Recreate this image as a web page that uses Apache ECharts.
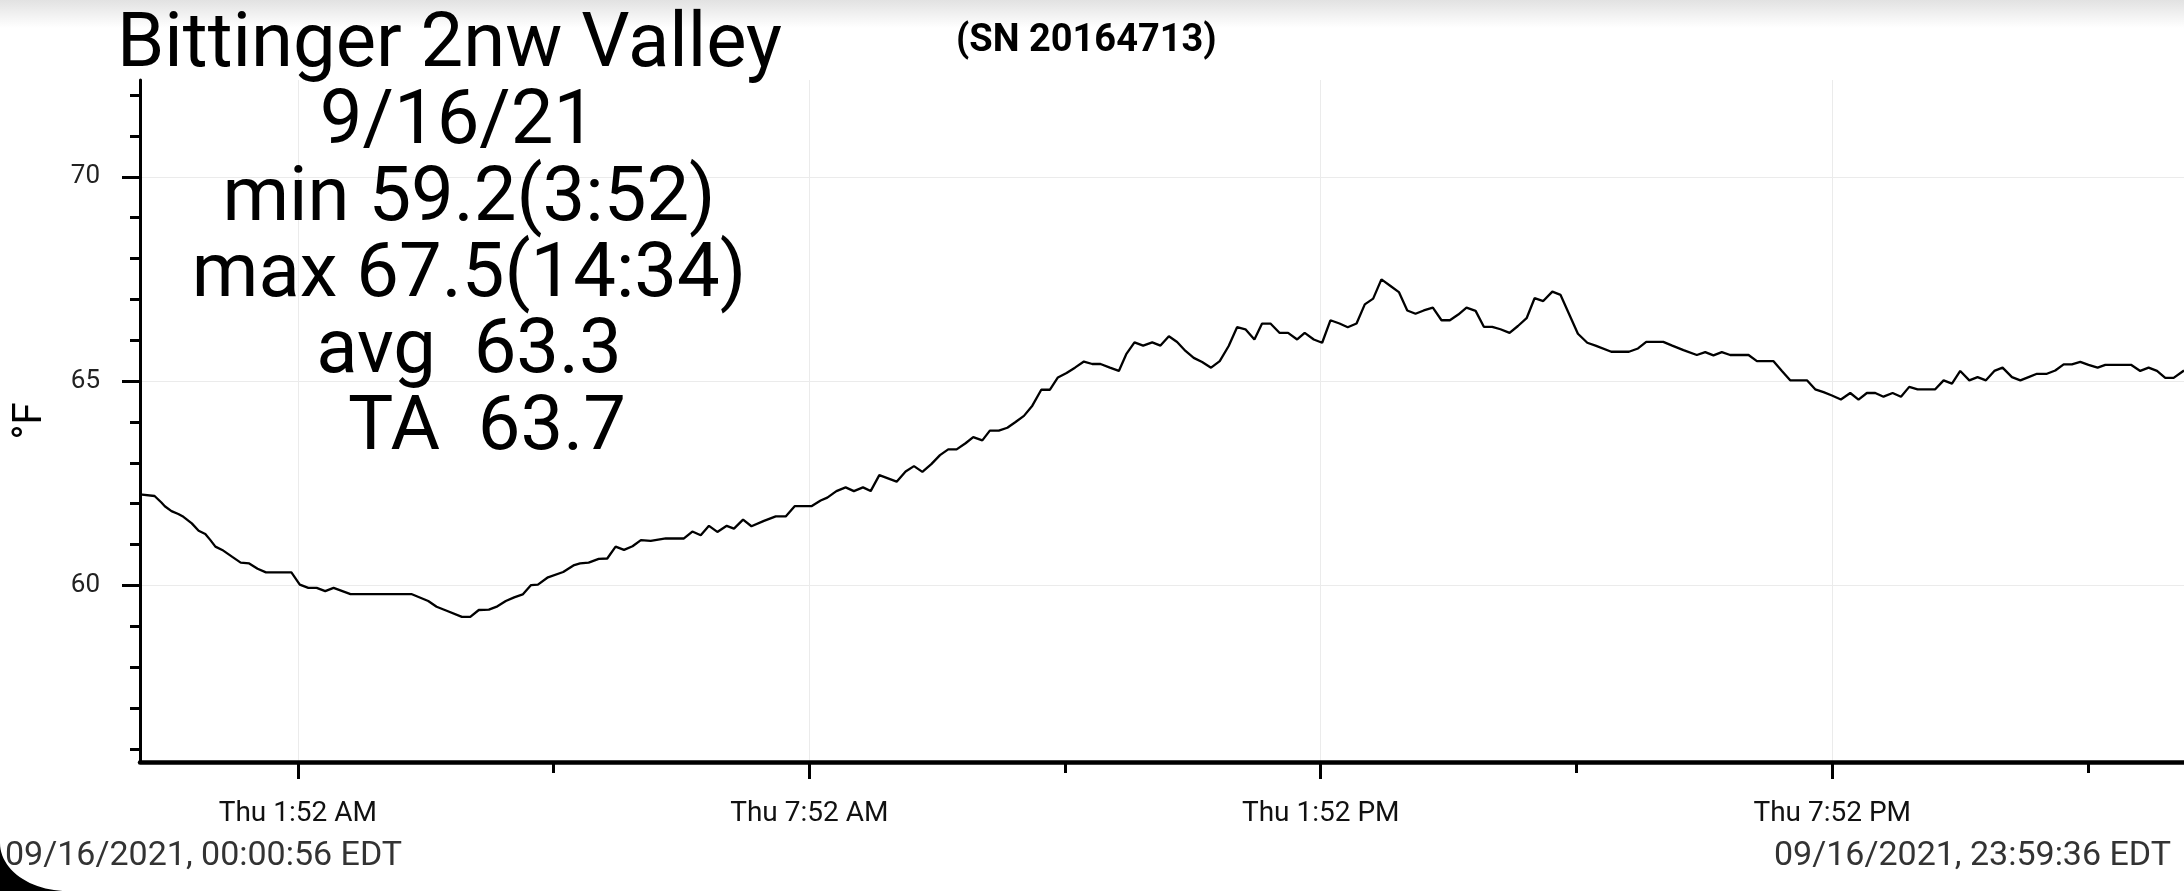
<!DOCTYPE html>
<html>
<head>
<meta charset="utf-8">
<script src="https://cdn.jsdelivr.net/npm/echarts@6/dist/echarts.min.js"></script>
<style>
html,body{margin:0;padding:0;background:#fff;}
#chart{width:2184px;height:891px;}
</style>
</head>
<body>
<div id="chart"></div>
<script>
// minutes since midnight (09/16/2021, EDT)
const times = [
0.9,11.2,16.0,18.4,23.1,27.9,31.5,37.4,42.2,46.9,50.5,54.0,58.8,65.9,71.8,77.8,83.7,89.6,107.5,113.4,
119.4,125.3,131.3,137.2,149.1,191.9,203.8,209.7,216.8,227.5,233.4,239.4,246.5,252.5,258.4,264.3,270.3,276.2,281.0,288.1,
298.8,306.0,310.7,316.7,323.8,329.8,335.7,341.6,347.6,353.5,360.4,371.0,383.8,389.7,395.6,401.4,407.3,413.9,419.0,425.4,
431.3,440.1,448.4,455.4,461.7,473.5,480.0,484.7,491.1,497.6,503.4,509.8,515.2,521.3,533.5,539.8,545.7,551.6,557.9,564.0,
569.8,575.7,582.0,587.4,593.8,599.1,605.4,611.4,617.2,623.1,629.0,635.3,641.4,647.0,653.1,659.0,665.3,671.2,677.0,683.6,
689.9,695.1,700.9,707.0,713.4,719.2,725.1,730.9,736.8,742.6,748.5,754.8,760.9,767.2,773.1,779.0,785.3,790.7,796.6,803.1,
809.0,815.4,820.7,827.1,833.0,838.8,845.2,851.0,857.2,863.0,868.9,874.7,881.1,887.0,892.9,898.7,904.5,910.9,917.0,922.9,
928.8,934.6,941.0,946.8,952.7,958.5,964.9,970.8,976.9,982.5,988.6,995.0,1000.8,1006.7,1013.0,1019.6,1025.4,1036.5,1048.9,1055.3,
1061.1,1073.1,1079.4,1087.3,1096.7,1102.6,1108.4,1114.3,1120.2,1133.1,1139.0,1150.7,1156.6,1162.4,1174.2,1180.0,1185.9,1191.8,1198.1,1204.7,
1210.5,1216.4,1222.3,1228.1,1234.5,1240.4,1246.2,1252.1,1264.5,1270.4,1276.3,1282.1,1288.5,1294.3,1300.2,1306.1,1311.9,1318.5,1324.4,1330.2,
1336.1,1343.1,1349.0,1354.9,1360.7,1366.6,1372.4,1378.8,1384.2,1402.3,1408.8,1414.7,1420.6,1426.4,1432.3,1439.6
];
// temperature, °F
const temps = [
62.23,62.19,62.03,61.94,61.82,61.75,61.68,61.52,61.34,61.26,61.11,60.95,60.87,60.70,60.56,60.54,60.41,60.32,60.32,60.02,
59.94,59.94,59.86,59.94,59.79,59.79,59.62,59.48,59.38,59.23,59.23,59.40,59.41,59.49,59.62,59.71,59.78,60.01,60.02,60.20,
60.33,60.49,60.54,60.56,60.65,60.66,60.95,60.87,60.96,61.11,61.09,61.15,61.15,61.32,61.23,61.46,61.31,61.46,61.39,61.61,
61.45,61.58,61.69,61.69,61.94,61.94,62.08,62.15,62.31,62.40,62.31,62.40,62.31,62.70,62.54,62.79,62.92,62.78,62.97,63.19,
63.33,63.33,63.48,63.63,63.55,63.79,63.79,63.86,64.00,64.15,64.40,64.79,64.79,65.09,65.20,65.33,65.48,65.42,65.42,65.33,
65.25,65.66,65.95,65.87,65.95,65.87,66.10,65.96,65.74,65.57,65.47,65.33,65.49,65.86,66.32,66.27,66.02,66.41,66.41,66.18,
66.18,66.02,66.18,66.02,65.94,66.49,66.41,66.32,66.41,66.88,67.02,67.49,67.33,67.18,66.73,66.65,66.73,66.80,66.49,66.49,
66.63,66.80,66.72,66.33,66.33,66.27,66.18,66.35,66.54,67.03,66.96,67.19,67.11,66.65,66.16,65.94,65.87,65.72,65.72,65.80,
65.96,65.96,65.87,65.76,65.64,65.71,65.63,65.71,65.64,65.64,65.49,65.49,65.25,65.02,65.02,64.80,64.73,64.65,64.55,64.71,
64.55,64.71,64.71,64.62,64.71,64.62,64.86,64.80,64.80,65.02,64.94,65.25,65.02,65.10,65.02,65.25,65.33,65.10,65.02,65.10,
65.18,65.18,65.26,65.41,65.41,65.47,65.40,65.33,65.40,65.40,65.25,65.33,65.25,65.08,65.08,65.26
];
const xTickValues = [112, 472, 832, 1192];
const xTickLabels = ['Thu 1:52 AM', 'Thu 7:52 AM', 'Thu 1:52 PM', 'Thu 7:52 PM'];
const xMinorTickValues = [292, 652, 1012, 1372];
const yTickValues = [60, 65, 70];
const yTickLabels = ['60', '65', '70'];
const yMinorTickValues = [56,57,58,59,61,62,63,64,66,67,68,69,71,72];
const xStart = 0.933, xEnd = 1439.6;
const yMin = 55.68, yMax = 72.37;
const titleText = 'Bittinger 2nw Valley';
const serialText = '(SN 20164713)';
const statLines = ['9/16/21', 'min 59.2(3:52)', 'max 67.5(14:34)', 'avg  63.3', 'TA  63.7'];
const startStamp = '09/16/2021, 00:00:56 EDT';
const endStamp = '09/16/2021, 23:59:36 EDT';

const FONT = 'Roboto, "Noto Sans", sans-serif';
const chart = echarts.init(document.getElementById('chart'), null, {renderer: 'canvas'});

const statX = [458, 469, 469, 469, 487];
const statY = [145, 222, 298, 374, 451];
const BIG = 76;
const midOff = Math.round(BIG * 0.27);

// rounded screen-corner mask (bottom-left)
const cornerPts = [[0, 891]];
for (let k = 0; k <= 24; k++) {
  const a = Math.PI - (Math.PI / 2) * (k / 24);
  cornerPts.push([67 + 67 * Math.cos(a), 843 + 48 * Math.sin(a)]);
}

const graphics = [
  {type:'rect', z:0, shape:{x:0,y:0,width:2184,height:28},
   style:{fill:new echarts.graphic.LinearGradient(0,0,0,1,[{offset:0,color:'#e2e2e2'},{offset:1,color:'#ffffff'}])}},
  {type:'text', z:50, x:117, y:68-midOff, style:{text:titleText, font:BIG+'px '+FONT, fill:'#000', align:'left', verticalAlign:'middle'}},
  {type:'text', z:50, x:956, y:41, style:{text:serialText, font:'bold 38px '+FONT, fill:'#000', align:'left', verticalAlign:'middle'}},
  {type:'text', z:50, x:5, y:865-9, style:{text:startStamp, font:'34px '+FONT, fill:'#333', align:'left', verticalAlign:'middle'}},
  {type:'text', z:50, x:2171, y:865-9, style:{text:endStamp, font:'34px '+FONT, fill:'#333', align:'right', verticalAlign:'middle'}},
  {type:'polygon', z:100, shape:{points:cornerPts}, style:{fill:'#000'}}
];
statLines.forEach((s, i) => {
  graphics.push({type:'text', z:50, x:statX[i], y:statY[i]-midOff,
    style:{text:s, font:BIG+'px '+FONT, fill:'#000', align:'center', verticalAlign:'middle'}});
});

const option = {
  backgroundColor: '#fff',
  animation: false,
  textStyle: {fontFamily: FONT},
  grid: {left: 140, right: 0, top: 80, bottom: 129, containLabel: false},
  xAxis: [
    {
      type: 'value', min: xStart, max: xEnd, position: 'bottom',
      axisLine: {show: true, onZero: false, lineStyle: {color: '#000', width: 4.5}},
      axisTick: {show: true, customValues: xTickValues, length: 17, lineStyle: {color: '#000', width: 3}},
      axisLabel: {show: true, customValues: xTickValues, margin: 38, fontSize: 28, color: '#111', fontFamily: FONT,
        formatter: v => { const i = xTickValues.indexOf(Math.round(v)); return i >= 0 ? xTickLabels[i] : ''; }},
      splitLine: {show: true, lineStyle: {color: '#ebebeb', width: 1}}
    },
    {
      type: 'value', min: xStart, max: xEnd, position: 'bottom', offset: 0,
      axisLine: {show: false, onZero: false},
      axisTick: {show: true, customValues: xMinorTickValues, length: 11, lineStyle: {color: '#000', width: 3}},
      axisLabel: {show: false},
      splitLine: {show: false}
    }
  ],
  yAxis: [
    {
      type: 'value', min: yMin, max: yMax, position: 'left',
      name: '°F', nameLocation: 'middle', nameGap: 89,
      nameTextStyle: {fontSize: 40, color: '#000', fontFamily: FONT},
      axisLine: {show: true, onZero: false, lineStyle: {color: '#000', width: 3}},
      axisTick: {show: true, customValues: yTickValues, length: 18, lineStyle: {color: '#000', width: 3}},
      axisLabel: {show: true, customValues: yTickValues, margin: 40, fontSize: 26, color: '#222', fontFamily: FONT,
        formatter: v => { const i = yTickValues.indexOf(Math.round(v)); return i >= 0 ? yTickLabels[i] : ''; }},
      splitLine: {show: true, lineStyle: {color: '#ebebeb', width: 1}}
    },
    {
      type: 'value', min: yMin, max: yMax, position: 'left', offset: 0,
      axisLine: {show: false, onZero: false},
      axisTick: {show: true, customValues: yMinorTickValues, length: 10, lineStyle: {color: '#000', width: 3}},
      axisLabel: {show: false},
      splitLine: {show: false}
    }
  ],
  series: [{
    type: 'line', xAxisIndex: 0, yAxisIndex: 0,
    data: times.map((t, i) => [t, temps[i]]),
    showSymbol: false, symbol: 'none', smooth: false,
    lineStyle: {color: '#000', width: 2.3},
    z: 10
  }],
  graphic: graphics
};
chart.setOption(option);
</script>
</body>
</html>
